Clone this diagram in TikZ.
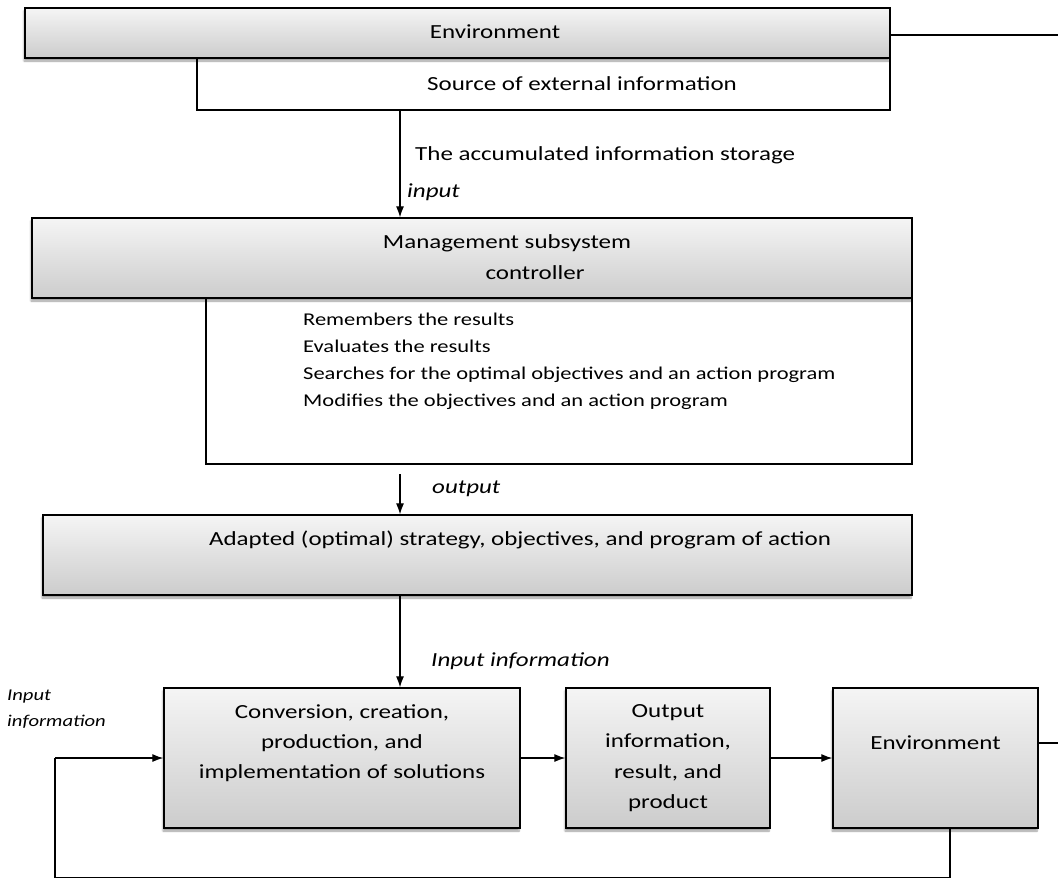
\documentclass[tikz,border=0pt]{standalone}
\usepackage{fontspec}
\setmainfont[FakeStretch=1.25]{Carlito}
\usetikzlibrary{arrows.meta,shadows.blur}
\begin{document}
\begin{tikzpicture}[x=1pt,y=-1pt,
  gbox/.style={draw=black,line width=1.3pt,top color=gray!8,bottom color=gray!40,
    blur shadow={shadow xshift=-1pt,shadow yshift=-3pt,shadow blur steps=6,shadow opacity=40},
    inner sep=0pt,font=\fontsize{20}{30}\selectfont,align=center},
  wbox/.style={draw=black,line width=1.1pt,fill=white,inner sep=0pt},
  txt/.style={inner sep=0pt,font=\fontsize{20}{30}\selectfont},
  itxt/.style={inner sep=0pt,font=\fontsize{20}{24}\selectfont\itshape},
  arr/.style={line width=1.2pt,-{Latex[length=11pt,width=8pt]}},
  ln/.style={line width=1.2pt}]
\useasboundingbox (0,0) rectangle (1058,879);
% top
\node[wbox,minimum width=693pt,minimum height=52pt] (src) at (543.5,84) {};
\node[gbox,minimum width=865pt,minimum height=50pt] (env) at (457.5,33) {};
\node[txt] (envt) at (495,32) {Environment};
\node[txt] (srct) at (582,84) {Source of external information};
\coordinate (rtop) at (1058,35);
\draw[ln] (env.east |- rtop) -- (rtop);
% management
\node[wbox,minimum width=706pt,minimum height=166pt] (low) at (559,381) {};
\node[gbox,minimum width=880pt,minimum height=80pt] (mgmt) at (472,258) {};
\node[txt] (mg1) at (507,243) {Management subsystem};
\node[txt] (mg2) at (535,273) {controller};
\node[inner sep=0pt,anchor=north west,align=left,font=\fontsize{18}{27}\selectfont] (lowt) at (303,313) {Remembers the results\\Evaluates the results\\Searches for the optimal objectives and an action program\\Modifies the objectives and an action program};
\coordinate (ax) at (400,0);
\draw[arr] (src.south -| ax) -- (mgmt.north -| ax);
\node[txt,anchor=west] (acc) at (415,155) {The accumulated information storage};
\node[itxt,anchor=west] (inp) at (407,192) {input};
% adapted
\node[gbox,minimum width=869pt,minimum height=80pt] (adp) at (477.5,555) {};
\node[txt] (adpt) at (520,540) {Adapted (optimal) strategy, objectives, and program of action};
\coordinate (o1) at (400,474);
\draw[arr] (o1) -- (adp.north -| ax);
\node[itxt,anchor=west] (outl) at (432,489) {output};
% bottom row
\node[gbox,minimum width=356pt,minimum height=140pt] (conv) at (342,758) {};
\node[txt,align=center] (convt) at (342,743) {Conversion, creation,\\production, and\\implementation of solutions};
\node[gbox,minimum width=204pt,minimum height=140pt] (outb) at (668,758) {};
\node[txt,align=center,font=\fontsize{20}{30.5}\selectfont] (outt) at (668,758) {Output\\information,\\result, and\\product};
\node[gbox,minimum width=205pt,minimum height=140pt] (env2) at (935.5,758) {};
\node[txt] (env2t) at (935.5,743) {Environment};
\draw[arr] (adp.south -| ax) -- (conv.north -| ax);
\node[itxt,anchor=west] (ii) at (431,661) {Input information};
\draw[arr] (conv.east) -- (outb.west);
\draw[arr] (outb.east) -- (env2.west);
\coordinate (rbot) at (1058,743);
\draw[ln] (env2.east |- rbot) -- (rbot);
\coordinate (fb1) at (950,877.5);
\coordinate (fb2) at (55,877.5);
\draw[ln] (env2.south -| fb1) -- (fb1) -- (fb2) -- (fb2 |- conv.west);
\draw[arr] (fb2 |- conv.west) -- (conv.west);
\node[inner sep=0pt,anchor=north west,align=left,font=\fontsize{16.5}{26}\selectfont\itshape] (lii) at (7,690) {Input\\information};
\end{tikzpicture}
\end{document}
